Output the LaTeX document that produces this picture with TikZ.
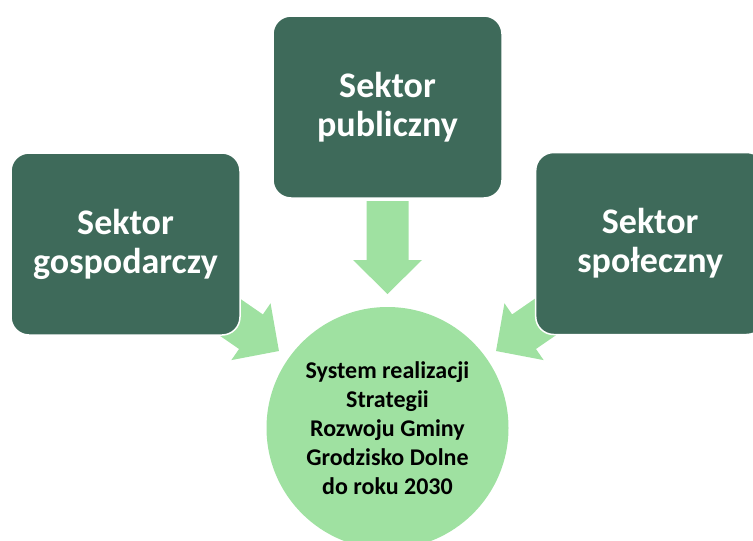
\documentclass[tikz,border=0pt]{standalone}
\usepackage{fontspec}
\setmainfont{Carlito}
\definecolor{boxgreen}{HTML}{3E6A5A}
\definecolor{lightgreen}{HTML}{9FE1A1}
\tikzset{
  sectorbox/.style={draw=white, line width=1.5pt, fill=boxgreen, rounded corners=18pt,
    minimum width=229pt, minimum height=182pt, inner sep=0pt, text=white, align=center,
    font=\fontsize{36}{39}\selectfont\bfseries},
  goalcircle/.style={circle, fill=lightgreen, minimum size=242pt, inner sep=0pt, align=center,
    font=\fontsize{24}{29}\selectfont\bfseries},
  blockarrow/.pic={\fill[lightgreen] (0,-21) -- (59,-21) -- (59,-34.5) -- (93,0) -- (59,34.5) -- (59,21) -- (0,21) -- cycle;}
}
\begin{document}
\begin{tikzpicture}[x=1pt,y=-1pt]
\useasboundingbox (0,0) rectangle (753,541);
\clip (0,0) rectangle (753,541);
\node[goalcircle] (goal) at (387.5,428) {System realizacji\\Strategii\\Rozwoju Gminy\\Grodzisko Dolne\\do roku 2030};
\pic[rotate=-34.6] at (202.4,298.2) {blockarrow};
\pic[rotate=-90] at (387.5,201) {blockarrow};
\pic[rotate=-145.4] at (572.6,298.2) {blockarrow};
\node[sectorbox] (pub) at (387.5,107) {Sektor\\publiczny};
\node[sectorbox] (gos) at (125.5,244) {Sektor\\gospodarczy};
\node[sectorbox] (spo) at (650.2,243.5) {Sektor\\społeczny};
\end{tikzpicture}
\end{document}
